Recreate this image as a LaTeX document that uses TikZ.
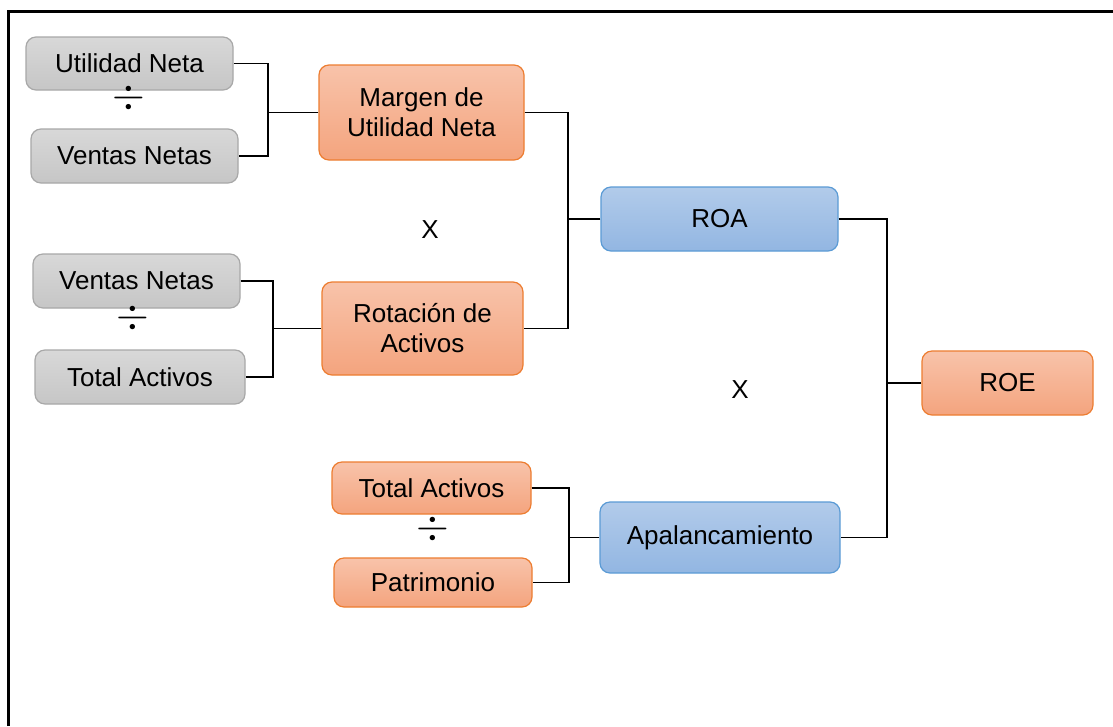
\documentclass[tikz,border=0pt]{standalone}
\usepackage{fix-cm}
\usepackage{fontspec}
\setmainfont{Liberation Sans}
\definecolor{grayTop}{RGB}{216,216,216}
\definecolor{grayBot}{RGB}{198,198,198}
\definecolor{grayLine}{RGB}{168,168,168}
\definecolor{orTop}{RGB}{248,195,170}
\definecolor{orBot}{RGB}{244,164,126}
\definecolor{orLine}{RGB}{237,125,49}
\definecolor{blTop}{RGB}{178,203,234}
\definecolor{blBot}{RGB}{146,182,226}
\definecolor{blLine}{RGB}{91,155,213}
\newcommand{\divmark}{\raisebox{0pt}[0pt][0pt]{$\div$}}
\begin{document}
\begin{tikzpicture}[x=1pt,y=-1pt,
  box/.style={rounded corners=10pt, line width=1.2pt, align=center, inner sep=0pt,
    font=\fontsize{26}{30}\selectfont},
  graybox/.style={box, draw=grayLine, top color=grayTop, bottom color=grayBot},
  orangebox/.style={box, draw=orLine, top color=orTop, bottom color=orBot},
  bluebox/.style={box, draw=blLine, top color=blTop, bottom color=blBot},
  conn/.style={line width=1.6pt, black},
  lbl/.style={font=\fontsize{26}{30}\selectfont, inner sep=0pt},
  divsign/.style={font=\fontsize{42}{42}\selectfont, inner sep=0pt}]
\useasboundingbox (0,0) rectangle (1113,726);
\fill[white] (0,0) rectangle (1113,726);
\draw[line width=3pt] (8,726) -- (8,11) -- (1113,11);

% left column
\node[graybox, minimum width=207pt, minimum height=53pt] (un) at (129.5,63.5) {Utilidad Neta};
\node[divsign] (d1) at (129,108.5) {\divmark};
\node[graybox, minimum width=207pt, minimum height=54pt] (vn1) at (134.5,156) {Ventas Netas};
\node[graybox, minimum width=207pt, minimum height=54pt] (vn2) at (136.5,281) {Ventas Netas};
\node[divsign] (d2) at (133,328.5) {\divmark};
\node[graybox, minimum width=210pt, minimum height=54pt] (ta1) at (140,377) {Total Activos};

% middle column
\node[orangebox, minimum width=205pt, minimum height=95pt] (mun) at (421.5,112.5) {Margen de\\Utilidad Neta};
\node[lbl] (x1) at (430,230) {X};
\node[orangebox, minimum width=201pt, minimum height=93pt] (ra) at (422.5,328.5) {Rotación de\\Activos};
\node[orangebox, minimum width=199pt, minimum height=52pt] (ta2) at (431.5,488) {Total Activos};
\node[divsign] (d3) at (433,539.5) {\divmark};
\node[orangebox, minimum width=198pt, minimum height=49pt] (pat) at (433,582.5) {Patrimonio};

% right columns
\node[bluebox, minimum width=237pt, minimum height=64pt] (roa) at (719.5,219) {ROA};
\node[lbl] (x2) at (740,390) {X};
\node[bluebox, minimum width=240pt, minimum height=71pt] (apa) at (720,537.5) {Apalancamiento};
\node[orangebox, minimum width=171pt, minimum height=64pt] (roe) at (1007.5,383) {ROE};

% bracket x positions
\coordinate (b1) at (268,0);
\coordinate (b2) at (273,0);
\coordinate (b3) at (568,0);
\coordinate (b4) at (887,0);
\coordinate (b5) at (569,0);

\draw[conn] (un.east) -- (un.east -| b1) -- (vn1.east -| b1) -- (vn1.east);
\draw[conn] (mun.west) -- (mun.west -| b1);

\draw[conn] (vn2.east) -- (vn2.east -| b2) -- (ta1.east -| b2) -- (ta1.east);
\draw[conn] (ra.west) -- (ra.west -| b2);

\draw[conn] (mun.east) -- (mun.east -| b3) -- (ra.east -| b3) -- (ra.east);
\draw[conn] (roa.west) -- (roa.west -| b3);

\draw[conn] (ta2.east) -- (ta2.east -| b5) -- (pat.east -| b5) -- (pat.east);
\draw[conn] (apa.west) -- (apa.west -| b5);

\draw[conn] (roa.east) -- (roa.east -| b4) -- (apa.east -| b4) -- (apa.east);
\draw[conn] (roe.west) -- (roe.west -| b4);
\end{tikzpicture}
\end{document}
